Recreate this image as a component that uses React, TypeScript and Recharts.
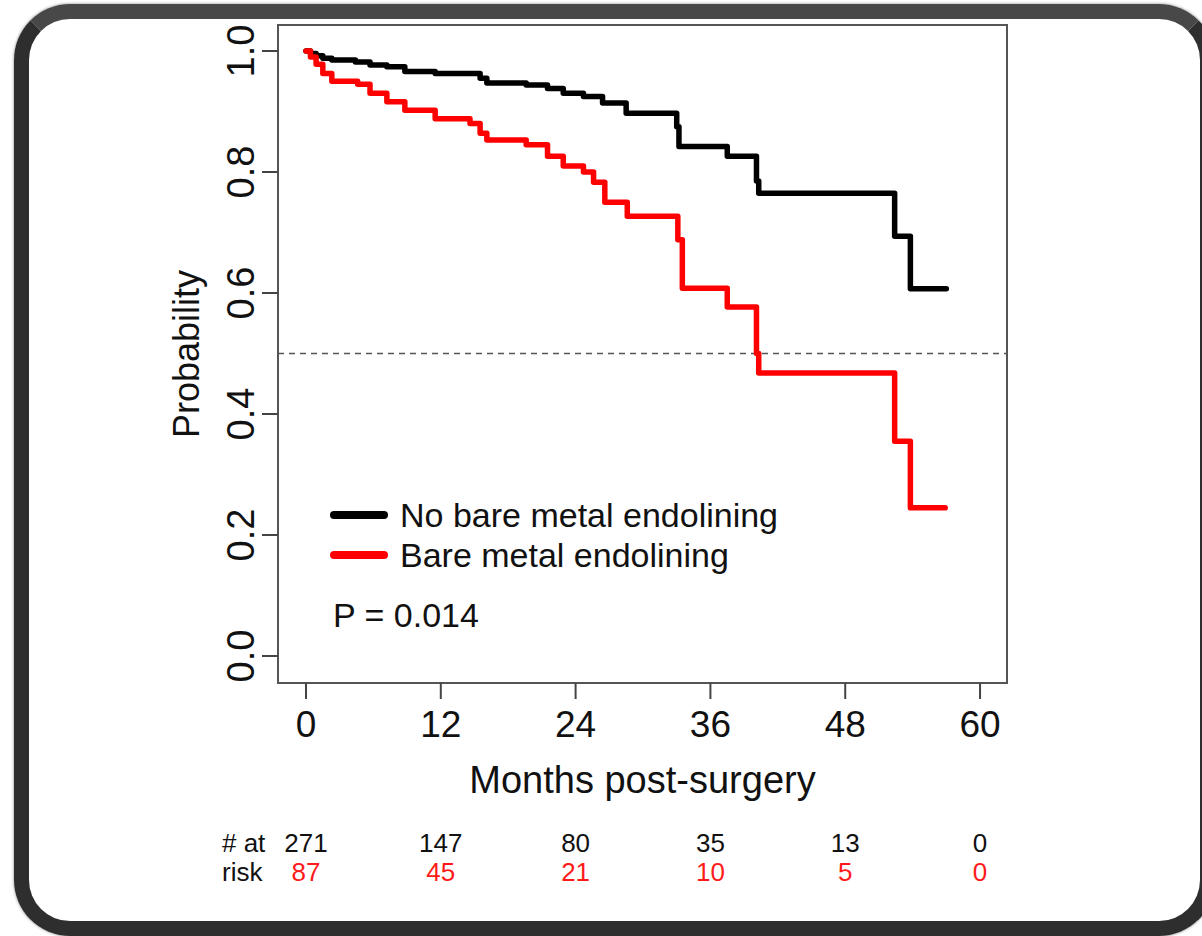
import React from 'react';
import {
  LineChart,
  Line,
  XAxis,
  YAxis,
  ReferenceLine,
  ReferenceArea,
} from 'recharts';

const FONT = '"Liberation Sans", Arial, Helvetica, sans-serif';

// axis ticks
const monthTicks = [0, 12, 24, 36, 48, 60];
const probTicks = [0, 0.2, 0.4, 0.6, 0.8, 1.0];

// numbers at risk under each month tick
const atRiskNoBare = [271, 147, 80, 35, 13, 0];
const atRiskBare = [87, 45, 21, 10, 5, 0];

// Kaplan-Meier steps, no bare metal endolining
const noBareMonths = [0, 0.4, 0.9, 1.5, 2.3, 4.4, 5.7, 7.2, 8.8, 11.5, 15.5, 16.1, 19.6, 21.5, 22.9, 24.7, 26.4, 28.5, 33.0, 33.2, 37.5, 40.1, 40.3, 52.4, 53.8, 57.0];
const noBareSurv = [1.0, 0.996, 0.992, 0.988, 0.985, 0.982, 0.977, 0.974, 0.966, 0.963, 0.955, 0.947, 0.944, 0.938, 0.930, 0.925, 0.914, 0.897, 0.875, 0.842, 0.826, 0.785, 0.765, 0.694, 0.607, 0.607];

// Kaplan-Meier steps, bare metal endolining
const bareMonths = [0, 0.4, 0.9, 1.5, 2.3, 4.6, 5.7, 7.2, 8.8, 11.5, 14.6, 15.5, 16.1, 19.6, 21.5, 22.9, 24.7, 25.6, 26.6, 28.6, 33.1, 33.5, 37.5, 40.1, 40.3, 52.4, 53.8, 56.9];
const bareSurv = [1.0, 0.99, 0.978, 0.963, 0.95, 0.945, 0.93, 0.916, 0.902, 0.888, 0.88, 0.864, 0.853, 0.845, 0.826, 0.81, 0.80, 0.783, 0.75, 0.727, 0.688, 0.608, 0.577, 0.50, 0.468, 0.355, 0.245, 0.245];

const legendItems = [
  { label: 'No bare metal endolining', color: '#000000' },
  { label: 'Bare metal endolining', color: '#ff0000' },
];
const pValueText = 'P = 0.014';

const noBareData = noBareMonths.map((t, i) => ({ t, s: noBareSurv[i] }));
const bareData = bareMonths.map((t, i) => ({ t, s: bareSurv[i] }));

const X_DOMAIN: [number, number] = [-2.49, 62.4];
const Y_DOMAIN: [number, number] = [-0.0446, 1.043];

function MonthTick(props: any) {
  const { x, y, payload, index } = props;
  return (
    <g fontFamily={FONT}>
      <text x={x} y={y + 38} textAnchor="middle" fontSize={37} fill="#111">
        {payload.value}
      </text>
      <text x={x} y={y + 153} textAnchor="middle" fontSize={26} fill="#111">
        {atRiskNoBare[index]}
      </text>
      <text x={x} y={y + 182} textAnchor="middle" fontSize={26} fill="#ff1a1a">
        {atRiskBare[index]}
      </text>
      {index === 0 && (
        <>
          <text x={x - 84} y={y + 153} fontSize={26} fill="#111">
            # at
          </text>
          <text x={x - 84} y={y + 182} fontSize={26} fill="#111">
            risk
          </text>
        </>
      )}
    </g>
  );
}

function ProbTick(props: any) {
  const { x, y, payload } = props;
  return (
    <text
      x={x}
      y={y}
      transform={`rotate(-90, ${x}, ${y})`}
      textAnchor="middle"
      fontSize={38}
      fontFamily={FONT}
      fill="#111"
    >
      {Number(payload.value).toFixed(1)}
    </text>
  );
}

function XLabel(props: any) {
  const vb = props.viewBox || { x: 278, y: 683, width: 729 };
  return (
    <text
      x={vb.x + vb.width / 2}
      y={vb.y + 110}
      textAnchor="middle"
      fontSize={38}
      fontFamily={FONT}
      fill="#111"
    >
      Months post-surgery
    </text>
  );
}

function YLabel(props: any) {
  const vb = props.viewBox || { x: 178, y: 25, height: 658 };
  const bx = vb.x + 21;
  const cy = vb.y + vb.height / 2;
  return (
    <text
      x={bx}
      y={cy}
      transform={`rotate(-90, ${bx}, ${cy})`}
      textAnchor="middle"
      fontSize={36}
      fontFamily={FONT}
      fill="#111"
    >
      Probability
    </text>
  );
}

function KMLegend() {
  return (
    <div
      style={{
        position: 'absolute',
        left: 330,
        top: 495,
        fontFamily: FONT,
        color: '#111',
        whiteSpace: 'nowrap',
      }}
    >
      {legendItems.map((item) => (
        <div key={item.label} style={{ display: 'flex', alignItems: 'center', height: 40 }}>
          <span
            style={{
              display: 'inline-block',
              width: 58,
              height: 8,
              borderRadius: 4,
              background: item.color,
              marginRight: 12,
            }}
          />
          <span style={{ fontSize: 34, lineHeight: '40px' }}>{item.label}</span>
        </div>
      ))}
      <div style={{ marginTop: 20, height: 40, lineHeight: '40px', fontSize: 34, paddingLeft: 3 }}>
        {pValueText}
      </div>
    </div>
  );
}

export default function App() {
  return (
    <div
      style={{
        position: 'absolute',
        left: 0,
        top: 0,
        width: 1202,
        height: 936,
        overflow: 'hidden',
        background: '#ffffff',
      }}
    >
      {/* rounded frame */}
      <div
        style={{
          position: 'absolute',
          left: 14,
          top: 4,
          width: 1201,
          height: 932,
          boxSizing: 'border-box',
          border: '15px solid #2e2e2e',
          borderTopColor: '#484848',
          borderRadius: 56,
          boxShadow: '0 0 3px rgba(0,0,0,0.5)',
        }}
      />
      <div style={{ position: 'absolute', left: 0, top: 0 }}>
        <LineChart
          width={1202}
          height={936}
          margin={{ top: 25, right: 195, bottom: 193, left: 178 }}
        >
          <XAxis
            dataKey="t"
            type="number"
            domain={X_DOMAIN}
            allowDataOverflow
            ticks={monthTicks}
            interval={0}
            height={60}
            axisLine={false}
            tickSize={16}
            tickMargin={0}
            tickLine={{ stroke: '#444', strokeWidth: 2 }}
            tick={<MonthTick />}
            label={<XLabel />}
          />
          <YAxis
            dataKey="s"
            type="number"
            domain={Y_DOMAIN}
            allowDataOverflow
            ticks={probTicks}
            interval={0}
            width={100}
            axisLine={false}
            tickSize={16}
            tickMargin={8}
            tickLine={{ stroke: '#444', strokeWidth: 2 }}
            tick={<ProbTick />}
            label={<YLabel />}
          />
          <ReferenceArea
            x1={X_DOMAIN[0]}
            x2={X_DOMAIN[1]}
            y1={Y_DOMAIN[0]}
            y2={Y_DOMAIN[1]}
            fill="none"
            fillOpacity={0}
            stroke="#555"
            strokeWidth={2}
            ifOverflow="visible"
          />
          <ReferenceLine y={0.5} stroke="#555" strokeWidth={1.5} strokeDasharray="6 5" />
          <Line
            data={noBareData}
            dataKey="s"
            type="stepAfter"
            stroke="#000000"
            strokeWidth={5.5}
            strokeLinecap="round"
            strokeLinejoin="round"
            dot={false}
            activeDot={false}
            isAnimationActive={false}
          />
          <Line
            data={bareData}
            dataKey="s"
            type="stepAfter"
            stroke="#ff0000"
            strokeWidth={5.5}
            strokeLinecap="round"
            strokeLinejoin="round"
            dot={false}
            activeDot={false}
            isAnimationActive={false}
          />
        </LineChart>
      </div>
      <KMLegend />
    </div>
  );
}
